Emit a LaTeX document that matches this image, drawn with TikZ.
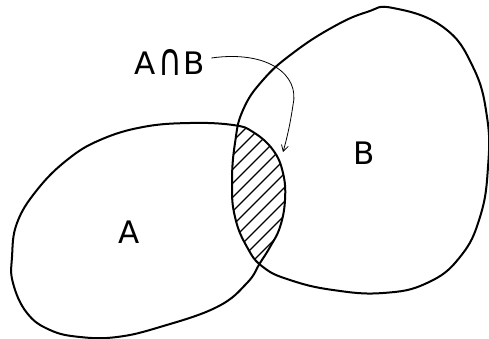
\documentclass[tikz,border=0pt]{standalone}
\usepackage{fontspec}
\setmainfont{DejaVu Sans}
\usetikzlibrary{arrows.meta}
\tikzset{
  blob/.style={line width=2pt, line join=round},
  hatch/.style={line width=1.3pt},
  pointer/.style={line width=0.8pt, -{Straight Barb[length=6pt,width=7pt]}},
  lbl/.style={font=\fontsize{31}{31}\selectfont, inner sep=0pt}
}
\begin{document}
\begin{tikzpicture}[x=1pt,y=-1pt]
\useasboundingbox (0,0) rectangle (489,339);
% hatched intersection
\begin{scope}
\clip plot[smooth cycle, tension=0.7] coordinates {(143,127) (190,123) (233,125) (253,132) (273,150) (283,173) (285,200) (280,227) (270,247) (260,263) (247,283) (217,307) (160,327) (117,337) (80,337) (50,330) (27,313) (13,283) (12,257) (17,223) (37,190) (67,160) (100,140)};
\clip plot[smooth cycle, tension=0.75] coordinates {(393,8) (443,27) (473,67) (487,117) (488,167) (480,217) (460,257) (427,283) (383,293) (333,290) (290,280) (263,267) (247,247) (235,217) (232,183) (235,143) (243,110) (263,80) (293,53) (333,27) (367,12)};
\foreach \c in {346,360,...,560} \draw[hatch] (\c-300,300) -- (\c-100,100);
\end{scope}
% set A
\draw[blob] plot[smooth cycle, tension=0.7] coordinates {(143,127) (190,123) (233,125) (253,132) (273,150) (283,173) (285,200) (280,227) (270,247) (260,263) (247,283) (217,307) (160,327) (117,337) (80,337) (50,330) (27,313) (13,283) (12,257) (17,223) (37,190) (67,160) (100,140)};
% set B
\draw[blob] plot[smooth cycle, tension=0.75] coordinates {(393,8) (443,27) (473,67) (487,117) (488,167) (480,217) (460,257) (427,283) (383,293) (333,290) (290,280) (263,267) (247,247) (235,217) (232,183) (235,143) (243,110) (263,80) (293,53) (333,27) (367,12)};
% labels
\node[lbl] (lA) at (129,232) {A};
\node[lbl] (lB) at (364,153) {B};
\node[lbl] (lAB) at (170,62) {A\kern2pt\raisebox{-1pt}{\scalebox{1.05}[1.45]{∩}}\kern2pt B};
\coordinate (tip) at (283,152);
\draw[pointer] (lAB.east) ++(6,-4) coordinate (start) .. controls (268,50) and (300,75) .. (293,105) .. controls (290,125) and (287,138) .. (tip);
\end{tikzpicture}
\end{document}
